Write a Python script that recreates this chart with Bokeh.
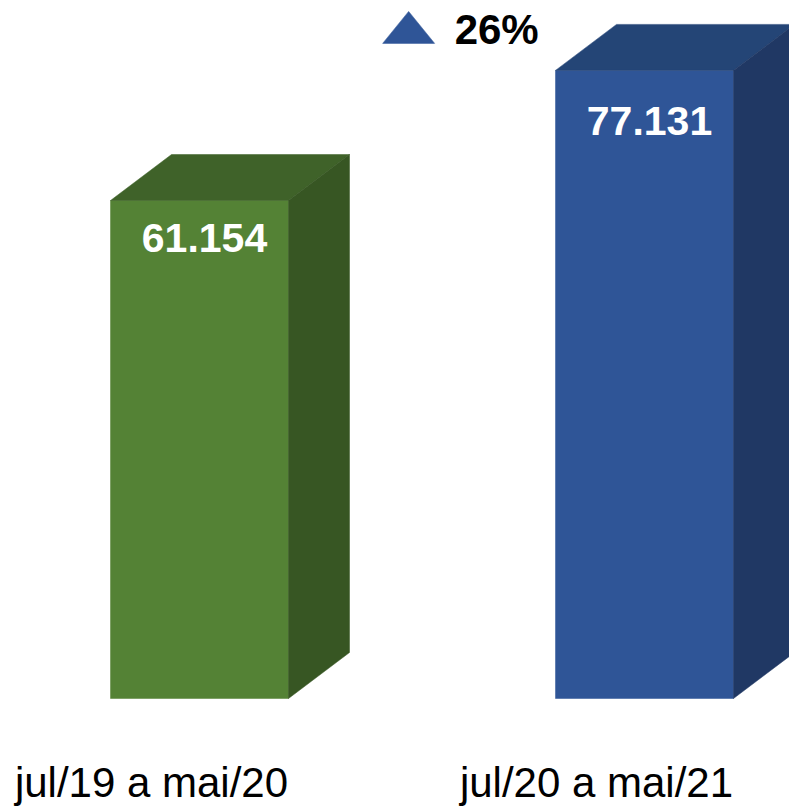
from bokeh.plotting import figure
from bokeh.models import Range1d, ColumnDataSource
from bokeh.core.properties import value
from bokeh.embed import file_html
from bokeh.resources import INLINE

# ---- data ----
categories = ["jul/19 a mai/20", "jul/20 a mai/21"]
totals = [61154, 77131]
value_labels = ["61.154", "77.131"]
growth_label = "26%"

front_colors = ["#548235", "#2F5597"]
top_colors = ["#3F6229", "#244576"]
side_colors = ["#375623", "#203864"]

# ---- layout constants (pixels) ----
W, H = 789, 806
SX = 445.0            # px per category unit
SY = 498.0 / 61154    # px per value unit
X0_PX = 199.0         # px of category 0 center from left
BASE_PX = 108.0       # px of zero line from bottom
DEPTH_X = 61 / SX
DEPTH_Y = 46 / SY
BAR_W = 178 / SX
TXT_SHIFT = 13        # px correction for text baseline

x_start = -X0_PX / SX
y_start = -BASE_PX / SY

p = figure(width=W, height=H, output_backend="svg", toolbar_location=None,
           x_range=Range1d(x_start, x_start + W / SX),
           y_range=Range1d(y_start, y_start + H / SY),
           min_border=0, background_fill_color="white",
           border_fill_color="white")
p.axis.visible = False
p.grid.visible = False
p.outline_line_color = None

xs = list(range(len(categories)))
left = [x - BAR_W / 2 for x in xs]
right = [x + BAR_W / 2 for x in xs]

front = ColumnDataSource(dict(left=left, right=right, top=totals,
                              bottom=[0] * len(xs), color=front_colors))
p.quad(left="left", right="right", top="top", bottom="bottom",
       fill_color="color", line_color="color", line_width=0.5, source=front)

top_xs, top_ys, side_xs, side_ys = [], [], [], []
for l, r, v in zip(left, right, totals):
    top_xs.append([l, l + DEPTH_X, r + DEPTH_X, r])
    top_ys.append([v, v + DEPTH_Y, v + DEPTH_Y, v])
    side_xs.append([r, r + DEPTH_X, r + DEPTH_X, r])
    side_ys.append([v, v + DEPTH_Y, DEPTH_Y, 0])

p.patches(xs=top_xs, ys=top_ys, fill_color=top_colors, line_color=top_colors,
          line_width=0.5)
p.patches(xs=side_xs, ys=side_ys, fill_color=side_colors, line_color=side_colors,
          line_width=0.5)

# value labels inside bars
p.text(x=[x + 5 / SX for x in xs],
       y=[v * 0.898 + TXT_SHIFT / SY for v in totals], text=value_labels,
       text_font=value("Liberation Sans"), text_font_style="bold",
       text_font_size="41px", text_color="white",
       text_align="center", text_baseline="alphabetic")

# category labels
p.text(x=[x - 48 / SX for x in xs], y=[-(96.5 - TXT_SHIFT) / SY] * len(xs),
       text=categories,
       text_font=value("Liberation Sans"), text_font_size="42px",
       text_color="black", text_align="center", text_baseline="alphabetic")

# growth annotation
tri_cx = 0.47
tri_base = totals[1] + 27 / SY
p.patch(x=[tri_cx - 26 / SX, tri_cx + 26 / SX, tri_cx],
        y=[tri_base, tri_base, tri_base + 32 / SY],
        fill_color="#2F5597", line_color="#2F5597", line_width=0.5)
p.text(x=[tri_cx + 46 / SX], y=[totals[1] + (28 + TXT_SHIFT) / SY],
       text=[growth_label],
       text_font=value("Liberation Sans"), text_font_style="bold",
       text_font_size="42px", text_color="black",
       text_align="left", text_baseline="alphabetic")

open("out.html", "w").write(file_html(p, INLINE))
